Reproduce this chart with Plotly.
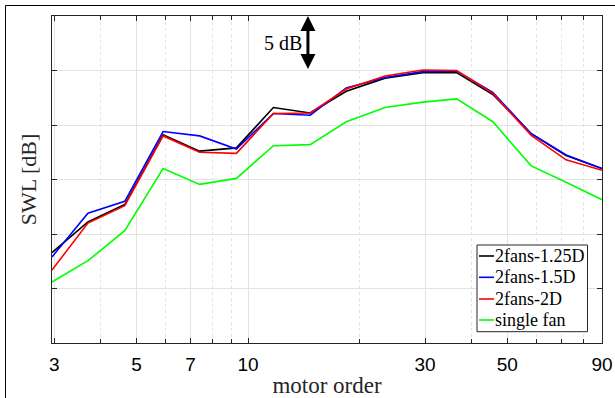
import math
import plotly.graph_objects as go

# ---- data ----
motor_order = [2.96, 3.7, 4.65, 5.9, 7.4, 9.3, 11.7, 14.7, 18.4, 23.4, 29.6, 36.5, 45.7, 58.0, 72.0, 90.0]
swl_2fans_125D = [8.3, 11.1, 12.7, 19.1, 17.6, 17.9, 21.6, 21.1, 23.1, 24.3, 24.8, 24.8, 22.8, 19.2, 17.2, 16.0]
swl_2fans_15D = [7.9, 11.9, 13.0, 19.4, 19.0, 17.8, 21.05, 20.9, 23.4, 24.35, 24.9, 24.95, 23.0, 19.2, 17.25, 16.0]
swl_2fans_2D = [6.7, 11.0, 12.6, 19.0, 17.5, 17.4, 21.05, 21.1, 23.3, 24.5, 25.05, 25.0, 22.9, 19.05, 16.8, 15.85]
swl_single_fan = [5.6, 7.55, 10.3, 16.0, 14.55, 15.1, 18.1, 18.2, 20.3, 21.6, 22.1, 22.4, 20.3, 16.25, 14.75, 13.15]

series_names = ["2fans-1.25D", "2fans-1.5D", "2fans-2D", "single fan"]
series_values = [swl_2fans_125D, swl_2fans_15D, swl_2fans_2D, swl_single_fan]
series_colors = ["#000000", "#0000ff", "#ff0000", "#00ff00"]

x_tick_vals = [3, 5, 7, 10, 30, 50, 90]
x_tick_text = ["3", "5", "7", "10", "30", "50", "90"]
x_minor_vals = [4, 6, 8, 9, 20, 40, 60, 70, 80]
y_tick_vals = [5, 10, 15, 20, 25]

SERIF = "Liberation Serif, Times New Roman, serif"
SANS = "Liberation Sans, Arial, sans-serif"
AXC = "#262626"
GRID = "#e3e3e3"

fig = go.Figure()
for name, vals, col in zip(series_names, series_values, series_colors):
    fig.add_trace(go.Scatter(x=motor_order, y=vals, mode="lines", name=name,
                             line=dict(color=col, width=1.6), showlegend=False,
                             hoverinfo="skip"))

fig.update_xaxes(
    type="log", range=[math.log10(motor_order[0]), math.log10(90)],
    automargin=False,
    tickvals=x_tick_vals, ticktext=x_tick_text,
    ticks="inside", ticklen=5, tickcolor=AXC, mirror="allticks",
    showline=True, linecolor=AXC, linewidth=1,
    showgrid=True, gridcolor=GRID, gridwidth=1,
    tickfont=dict(family=SANS, size=19, color="#000000"),
    ticklabelstandoff=4, ticklabeloverflow="allow",
    minor=dict(tickvals=x_minor_vals, ticks="inside", ticklen=4, tickcolor=AXC,
               showgrid=True, gridcolor=GRID, griddash="dot", gridwidth=1),
    title=dict(text="motor order", font=dict(family=SERIF, size=23, color="#262626"), standoff=8),
    zeroline=False,
)
fig.update_yaxes(
    range=[0, 30], tickvals=y_tick_vals, showticklabels=False,
    automargin=False,
    ticks="inside", ticklen=5, tickcolor=AXC, mirror="allticks",
    showline=True, linecolor=AXC, linewidth=1,
    showgrid=True, gridcolor=GRID, gridwidth=1, zeroline=False,
    title=dict(text="SWL [dB]", font=dict(family=SERIF, size=22, color="#262626"), standoff=8),
)

# plot area in px: x 52..602, y 16..343
def px_x(p):
    return (p - 52) / 550.0

def px_y(p):
    return (343 - p) / 327.0

shapes = []
annotations = []
# outer frame (left and top edges visible)
shapes.append(dict(type="rect", xref="paper", yref="paper", x0=px_x(5.5), x1=1.06,
                   y0=-0.3, y1=px_y(5.5), line=dict(color="#000000", width=1), layer="above"))

# legend box
shapes.append(dict(type="rect", xref="paper", yref="paper", x0=px_x(477), x1=px_x(587.5),
                   y0=px_y(331.7), y1=px_y(245), line=dict(color=AXC, width=1),
                   fillcolor="white", layer="above"))
entry_y = [256, 277.3, 299, 320]
for name, col, ey in zip(series_names, series_colors, entry_y):
    shapes.append(dict(type="line", xref="paper", yref="paper", x0=px_x(479), x1=px_x(494),
                       y0=px_y(ey), y1=px_y(ey), line=dict(color=col, width=1.6), layer="above"))
    annotations.append(dict(xref="paper", yref="paper", x=px_x(493), y=px_y(ey), text=name,
                            showarrow=False, xanchor="left", yanchor="middle",
                            font=dict(family=SERIF, size=18, color="#000000")))

# 5 dB scale arrow
arrow_x = math.log10(14.5)
annotations.append(dict(xref="x", yref="y", axref="x", ayref="y", x=arrow_x, y=30,
                        ax=arrow_x, ay=25, text="", showarrow=True, arrowhead=2,
                        arrowside="end+start", arrowwidth=3, arrowsize=1, arrowcolor="#000000",
                        standoff=0, startstandoff=0))
annotations.append(dict(xref="x", yref="y", x=math.log10(14.15), y=27.5, text="5 dB",
                        showarrow=False, xanchor="right", yanchor="middle",
                        font=dict(family=SERIF, size=20, color="#000000")))

fig.update_layout(
    width=615, height=398,
    margin=dict(l=52, r=13, t=16, b=55),
    paper_bgcolor="white", plot_bgcolor="white",
    shapes=shapes, annotations=annotations,
    showlegend=False, hovermode=False,
)

fig.write_html("out.html", config={"displayModeBar": False, "staticPlot": True},
               post_script="document.body.style.margin='0';")
